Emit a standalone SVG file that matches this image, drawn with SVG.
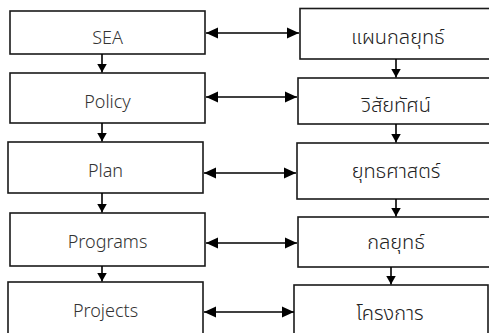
<svg xmlns="http://www.w3.org/2000/svg" width="489" height="333" viewBox="0 0 489 333">
<style>
.box{fill:#fff;stroke:#1a1a1a;stroke-width:1.6}
.ln{fill:none;stroke:#000;stroke-width:1.6}
.en{font-family:"Noto Sans","Open Sans",sans-serif;font-size:18px;font-weight:300;fill:#333;text-anchor:middle}
.th{font-family:"Noto Sans Thai","Noto Sans","DejaVu Sans",sans-serif;font-size:20px;font-weight:300;fill:#222;text-anchor:middle}
</style>
<defs>
<marker id="ah" markerUnits="userSpaceOnUse" markerWidth="13" markerHeight="12" refX="12" refY="6" orient="auto-start-reverse" viewBox="0 0 13 12">
<path d="M0,0.5 L12,6 L0,11.5 z" fill="#000"/>
</marker>
<marker id="av" markerUnits="userSpaceOnUse" markerWidth="10" markerHeight="10" refX="9" refY="5" orient="auto" viewBox="0 0 10 10">
<path d="M0,0 L9,5 L0,10 z" fill="#000"/>
</marker>
</defs>
<rect width="489" height="333" fill="#fff"/>
<g id="sea"><rect class="box" x="10" y="11" width="195" height="43"/><text class="en" x="107.5" y="44">SEA</text></g>
<g id="policy"><rect class="box" x="10" y="73" width="195" height="50"/><text class="en" x="107.5" y="108">Policy</text></g>
<g id="plan"><rect class="box" x="8" y="142" width="195" height="51"/><text class="en" x="105.5" y="177">Plan</text></g>
<g id="programs"><rect class="box" x="10" y="213" width="195" height="53"/><text class="en" x="107.5" y="248">Programs</text></g>
<g id="projects"><rect class="box" x="8" y="282" width="195" height="60"/><text class="en" x="105.5" y="317">Projects</text></g>
<g id="r1"><rect class="box" x="300" y="8.5" width="200" height="50.5"/><text class="th" x="398" y="44">แผนกลยุทธ์</text></g>
<g id="r2"><rect class="box" x="298" y="78" width="200" height="46"/><text class="th" x="396" y="112">วิสัยทัศน์</text></g>
<g id="r3"><rect class="box" x="297" y="143" width="200" height="56"/><text class="th" x="396" y="178">ยุทธศาสตร์</text></g>
<g id="r4"><rect class="box" x="298" y="217" width="200" height="50"/><text class="th" x="396" y="249">กลยุทธ์</text></g>
<g id="r5"><rect class="box" x="294" y="285" width="194" height="60"/><text class="th" x="390" y="320">โครงการ</text></g>
<g id="connectors">
<line class="ln" x1="206" y1="33" x2="299" y2="33" marker-start="url(#ah)" marker-end="url(#ah)"/>
<line class="ln" x1="206" y1="97" x2="297" y2="97" marker-start="url(#ah)" marker-end="url(#ah)"/>
<line class="ln" x1="204" y1="173" x2="296" y2="173" marker-start="url(#ah)" marker-end="url(#ah)"/>
<line class="ln" x1="206" y1="243" x2="297" y2="243" marker-start="url(#ah)" marker-end="url(#ah)"/>
<line class="ln" x1="204" y1="312" x2="294" y2="312" marker-start="url(#ah)" marker-end="url(#ah)"/>
<line class="ln" x1="102" y1="54" x2="102" y2="72.5" marker-end="url(#av)"/>
<line class="ln" x1="102" y1="123" x2="102" y2="141.5" marker-end="url(#av)"/>
<line class="ln" x1="102" y1="193" x2="102" y2="212.5" marker-end="url(#av)"/>
<line class="ln" x1="102" y1="266" x2="102" y2="281.5" marker-end="url(#av)"/>
<line class="ln" x1="396" y1="59" x2="396" y2="77.5" marker-end="url(#av)"/>
<line class="ln" x1="396" y1="124" x2="396" y2="142.5" marker-end="url(#av)"/>
<line class="ln" x1="396" y1="199" x2="396" y2="216.5" marker-end="url(#av)"/>
<line class="ln" x1="391" y1="267" x2="391" y2="284.5" marker-end="url(#av)"/>
</g>
</svg>
